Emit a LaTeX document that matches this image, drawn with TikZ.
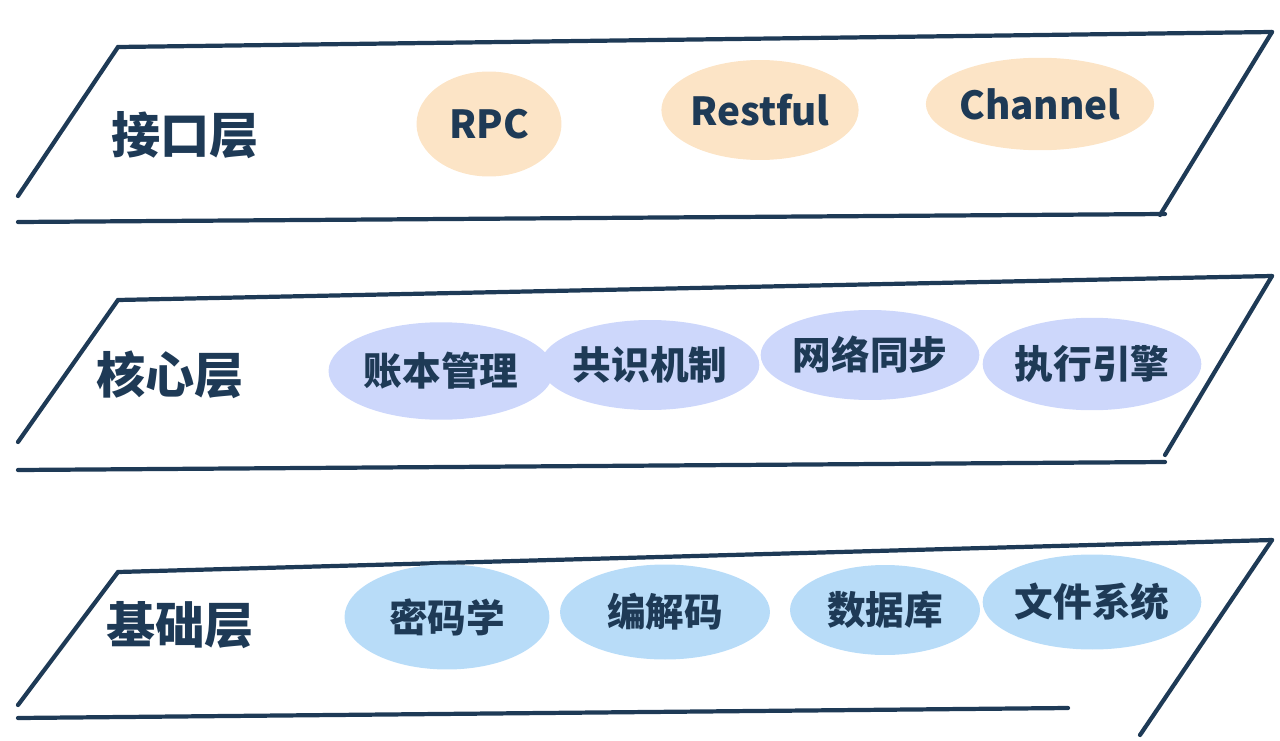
\documentclass[tikz,border=0pt]{standalone}
\usepackage{fontspec}
\newfontfamily\cjk{Noto Sans CJK SC}
\usetikzlibrary{shapes.geometric}
\definecolor{ink}{HTML}{1E3A56}
\definecolor{peach}{HTML}{FCE4C6}
\definecolor{lilac}{HTML}{CDD7FB}
\definecolor{sky}{HTML}{B8DCF8}
\tikzset{
  edge/.style={draw=ink, line width=2.4pt, line cap=round},
  layer/.style={text=ink, font=\cjk\bfseries\fontsize{28}{28}\selectfont},
  blob/.style={ellipse, inner sep=0pt, text=ink, font=\cjk\bfseries\fontsize{22}{22}\selectfont},
}

\begin{document}
\begin{tikzpicture}[x=0.02cm,y=-0.02cm]
\useasboundingbox (0,0) rectangle (1280,740);

% interface layer
\draw[edge] (118,47) -- (1272,32);
\draw[edge] (118,47) -- (18,196);
\draw[edge] (1272,32) -- (1160,215);
\draw[edge] (18,222) -- (1165,214);
\node[layer] (jk) at (185,135) {接口层};
\node[blob, fill=peach, minimum width=2.9cm, minimum height=2.1cm] (rpc) at (489,124) {RPC};
\node[blob, fill=peach, minimum width=3.8cm, minimum height=2.0cm] (rest) at (760,110) {Restful};
\node[blob, fill=peach, minimum width=4.3cm, minimum height=1.85cm] (chan) at (1040,104) {Channel};

% core layer
\draw[edge] (118,300) -- (1272,276);
\draw[edge] (118,300) -- (18,442);
\draw[edge] (1272,276) -- (1165,455);
\draw[edge] (18,470) -- (1165,462);
\node[layer] (hx) at (170,375) {核心层};
\node[blob, fill=lilac, minimum width=4.5cm, minimum height=1.95cm] (zb) at (441,371) {账本管理};
\node[blob, fill=lilac, minimum width=3.4cm, minimum height=1.8cm] (gs) at (650,365) {共识机制};
\node[blob, fill=lilac, minimum width=3.8cm, minimum height=1.8cm] (wl) at (870,355) {网络同步};
\node[blob, fill=lilac, minimum width=4.3cm, minimum height=1.85cm] (zx) at (1092,364) {执行引擎};

% base layer
\draw[edge] (118,572) -- (1272,540);
\draw[edge] (118,572) -- (18,705);
\draw[edge] (1272,540) -- (1140,735);
\draw[edge] (18,718) -- (1068,708);
\node[layer] (jc) at (180,625) {基础层};
\node[blob, fill=sky, minimum width=4.1cm, minimum height=2.1cm] (mm) at (447,617) {密码学};
\node[blob, fill=sky, minimum width=4.2cm, minimum height=1.9cm] (bj) at (665,612) {编解码};
\node[blob, fill=sky, minimum width=3.8cm, minimum height=1.8cm] (sj) at (885,610) {数据库};
\node[blob, fill=sky, minimum width=4.1cm, minimum height=1.9cm] (wj) at (1092,602) {文件系统};
\end{tikzpicture}
\end{document}
